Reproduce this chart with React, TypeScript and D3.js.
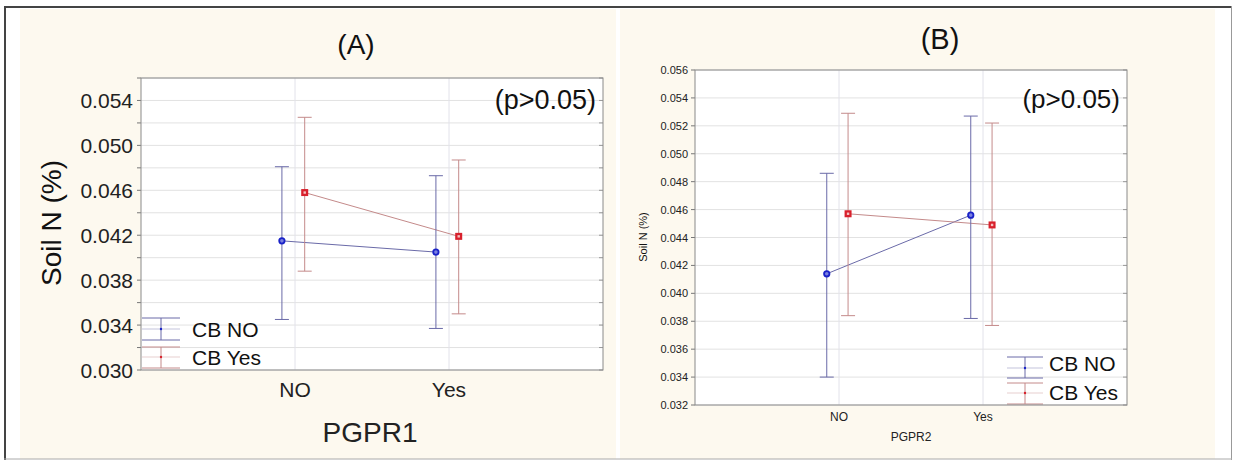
import React from "react";
import * as d3 from "d3";

const categories = ["NO", "Yes"];

// Panel A (PGPR1)
const cbNoMeanA = [0.0415, 0.0405];
const cbNoLowA = [0.0345, 0.0337];
const cbNoHighA = [0.0481, 0.0473];
const cbYesMeanA = [0.0458, 0.0419];
const cbYesLowA = [0.0388, 0.035];
const cbYesHighA = [0.0525, 0.0487];

// Panel B (PGPR2)
const cbNoMeanB = [0.0414, 0.0456];
const cbNoLowB = [0.034, 0.0382];
const cbNoHighB = [0.0486, 0.0527];
const cbYesMeanB = [0.0457, 0.0449];
const cbYesLowB = [0.0384, 0.0377];
const cbYesHighB = [0.0529, 0.0522];

const tickLabelsA = [0.030, 0.034, 0.038, 0.042, 0.046, 0.050, 0.054];
const gridA = [0.030, 0.032, 0.034, 0.036, 0.038, 0.040, 0.042, 0.044, 0.046, 0.048, 0.050, 0.052, 0.054, 0.056];
const tickLabelsB = [0.032, 0.034, 0.036, 0.038, 0.040, 0.042, 0.044, 0.046, 0.048, 0.050, 0.052, 0.054, 0.056];
const gridB = tickLabelsB;

const seriesNames = ["CB NO", "CB Yes"];

const FONT = "'Liberation Sans', Arial, 'DejaVu Sans', sans-serif";
const BLUE_LINE = "#6a6aa8";
const BLUE_MARK = "#1a22c8";
const RED_LINE = "#c48a8a";
const RED_MARK = "#d8202c";

type Series = { mean: number[]; low: number[]; high: number[]; offset: number; kind: "no" | "yes" };

type PanelProps = {
  x0: number; x1: number; y0: number; y1: number;
  domain: [number, number];
  grid: number[]; labels: number[];
  series: Series[];
  title: string; titleX: number; titleY: number; titleSize: number;
  tickSize: number; tickLabelX: number;
  yLabelX: number; yLabelY: number; yLabelSize: number;
  xTickY: number; xTickSize: number;
  xLabel: string; xLabelX: number; xLabelY: number; xLabelSize: number;
  pRight: number; pY: number; pSize: number;
  legX0: number; legX1: number; legTextX: number; legRows: { top: number; mid: number; bot: number; text: number }[];
  legSize: number;
};

function Panel(p: PanelProps) {
  const x = d3.scaleLinear().domain([0, 3]).range([p.x0, p.x1]);
  const y = d3.scaleLinear().domain(p.domain).range([p.y1, p.y0]);
  const line = d3.line<[number, number]>().x((d) => x(d[0])).y((d) => y(d[1]));
  const cap = 7;
  return (
    <g fontFamily={FONT}>
      <text x={p.titleX} y={p.titleY} fontSize={p.titleSize} textAnchor="middle" dominantBaseline="central" fill="#111">{p.title}</text>
      <rect x={p.x0} y={p.y0} width={p.x1 - p.x0} height={p.y1 - p.y0} fill="#fff" />
      {p.grid.map((g) => (
        <line key={"g" + g} x1={p.x0} x2={p.x1} y1={y(g)} y2={y(g)} stroke="#e2e2e2" strokeWidth={1} />
      ))}
      {categories.map((c, i) => (
        <line key={"v" + c} x1={x(i + 1)} x2={x(i + 1)} y1={p.y0} y2={p.y1} stroke="#e2e2ea" strokeWidth={1} />
      ))}
      {p.grid.map((g) => (
        <g key={"t" + g}>
          <line x1={p.x0 - 4} x2={p.x0} y1={y(g)} y2={y(g)} stroke="#777" />
          <line x1={p.x1 - 4} x2={p.x1} y1={y(g)} y2={y(g)} stroke="#999" />
        </g>
      ))}
      {p.labels.map((t) => (
        <text key={"l" + t} x={p.tickLabelX} y={y(t)} fontSize={p.tickSize} textAnchor="end" dominantBaseline="central" fill="#222">{d3.format(".3f")(t)}</text>
      ))}
      {categories.map((c, i) => (
        <text key={"x" + c} x={x(i + 1)} y={p.xTickY} fontSize={p.xTickSize} textAnchor="middle" dominantBaseline="central" fill="#222">{c}</text>
      ))}
      <text transform={`translate(${p.yLabelX},${p.yLabelY}) rotate(-90)`} fontSize={p.yLabelSize} textAnchor="middle" dominantBaseline="central" fill="#111">Soil N (%)</text>
      <text x={p.xLabelX} y={p.xLabelY} fontSize={p.xLabelSize} textAnchor="middle" dominantBaseline="central" fill="#222">{p.xLabel}</text>
      <text x={p.pRight} y={p.pY} fontSize={p.pSize} textAnchor="end" dominantBaseline="central" fill="#111">(p&gt;0.05)</text>

      {p.series.map((s, si) => (
        <path key={"ln" + si} d={line(s.mean.map((m, i) => [i + 1 + s.offset, m] as [number, number])) || ""} fill="none" stroke={s.kind === "no" ? BLUE_LINE : RED_LINE} strokeWidth={1} />
      ))}
      {p.series.map((s, si) =>
        s.mean.map((m, i) => {
          const cx = x(i + 1 + s.offset);
          const col = s.kind === "no" ? BLUE_LINE : RED_LINE;
          return (
            <g key={"e" + si + i} stroke={col} strokeWidth={1}>
              <line x1={cx} x2={cx} y1={y(s.low[i])} y2={y(s.high[i])} />
              <line x1={cx - cap} x2={cx + cap} y1={y(s.low[i])} y2={y(s.low[i])} />
              <line x1={cx - cap} x2={cx + cap} y1={y(s.high[i])} y2={y(s.high[i])} />
            </g>
          );
        })
      )}
      {p.series.map((s, si) =>
        s.mean.map((m, i) => {
          const cx = x(i + 1 + s.offset);
          const cy = y(m);
          return s.kind === "no" ? (
            <circle key={"m" + si + i} cx={cx} cy={cy} r={2.7} fill="#7a80e0" stroke={BLUE_MARK} strokeWidth={1.8} />
          ) : (
            <g key={"m" + si + i}>
              <rect x={cx - 3.5} y={cy - 3.5} width={7} height={7} fill={RED_MARK} />
              <rect x={cx - 1.2} y={cy - 1.2} width={2.4} height={2.4} fill="#f4c0c0" />
            </g>
          );
        })
      )}
      {p.series.map((s, si) => {
        const r = p.legRows[si];
        const col = s.kind === "no" ? BLUE_LINE : RED_LINE;
        const mx = (p.legX0 + p.legX1) / 2;
        return (
          <g key={"lg" + si}>
            <g stroke={col} strokeWidth={1}>
              <line x1={p.legX0} x2={p.legX1} y1={r.top} y2={r.top} />
              <line x1={p.legX0} x2={p.legX1} y1={r.bot} y2={r.bot} />
              <line x1={p.legX0} x2={p.legX1} y1={r.mid} y2={r.mid} strokeOpacity={0.4} />
              <line x1={mx} x2={mx} y1={r.top} y2={r.bot} />
            </g>
            <circle cx={mx} cy={r.mid} r={1.2} fill={s.kind === "no" ? BLUE_MARK : RED_MARK} />
            <text x={p.legTextX} y={r.text} fontSize={p.legSize} dominantBaseline="central" fill="#111">{seriesNames[si]}</text>
          </g>
        );
      })}
      <rect x={p.x0} y={p.y0} width={p.x1 - p.x0} height={p.y1 - p.y0} fill="none" stroke="#8a8a8a" strokeWidth={1} />
    </g>
  );
}

export default function App() {
  const BLUE_OFF = -0.085;
  const RED_OFF = 0.063;
  return (
    <div style={{ position: "absolute", left: 0, top: 0 }}>
      <svg width={1233} height={460} style={{ display: "block" }}>
        <rect x={0} y={0} width={1233} height={460} fill="#fff" />
        <rect x={20} y={9} width={596} height={450} fill="#fdf9ef" />
        <rect x={620} y={9} width={595} height={450} fill="#fdf9ef" />
        <Panel
          x0={141} x1={603} y0={78} y1={370}
          domain={[0.030, 0.056]} grid={gridA} labels={tickLabelsA}
          series={[
            { mean: cbNoMeanA, low: cbNoLowA, high: cbNoHighA, offset: BLUE_OFF, kind: "no" },
            { mean: cbYesMeanA, low: cbYesLowA, high: cbYesHighA, offset: RED_OFF, kind: "yes" },
          ]}
          title="(A)" titleX={356} titleY={44} titleSize={28}
          tickSize={21} tickLabelX={133}
          yLabelX={51} yLabelY={223} yLabelSize={28}
          xTickY={389} xTickSize={21}
          xLabel="PGPR1" xLabelX={370} xLabelY={432} xLabelSize={28}
          pRight={596} pY={100} pSize={27}
          legX0={142} legX1={180} legTextX={192}
          legRows={[{ top: 318, mid: 329, bot: 340, text: 329 }, { top: 347, mid: 357, bot: 368, text: 357 }]}
          legSize={21}
        />
        <Panel
          x0={695} x1={1127} y0={70} y1={405}
          domain={[0.032, 0.056]} grid={gridB} labels={tickLabelsB}
          series={[
            { mean: cbNoMeanB, low: cbNoLowB, high: cbNoHighB, offset: BLUE_OFF, kind: "no" },
            { mean: cbYesMeanB, low: cbYesLowB, high: cbYesHighB, offset: RED_OFF, kind: "yes" },
          ]}
          title="(B)" titleX={940} titleY={39} titleSize={29}
          tickSize={11} tickLabelX={688}
          yLabelX={643} yLabelY={237} yLabelSize={11}
          xTickY={417} xTickSize={12}
          xLabel="PGPR2" xLabelX={911} xLabelY={437} xLabelSize={12}
          pRight={1120} pY={99} pSize={26}
          legX0={1007} legX1={1043} legTextX={1049}
          legRows={[{ top: 357, mid: 368, bot: 378, text: 363 }, { top: 383, mid: 393, bot: 404, text: 392 }]}
          legSize={21}
        />
        <line x1={4} x2={1232} y1={7} y2={7} stroke="#444" strokeWidth={2} />
        <line x1={5} x2={5} y1={6} y2={460} stroke="#444" strokeWidth={2} />
        <line x1={1231.5} x2={1231.5} y1={6} y2={460} stroke="#999" strokeWidth={1} />
        <line x1={4} x2={1232} y1={459} y2={459} stroke="#aaa" strokeWidth={1} />
      </svg>
    </div>
  );
}
